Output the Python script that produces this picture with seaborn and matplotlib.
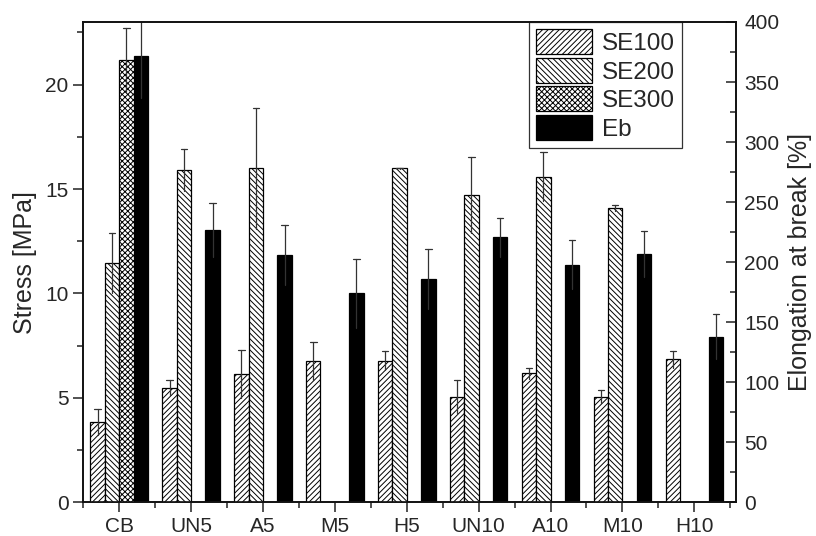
import numpy as np
import pandas as pd
import matplotlib
matplotlib.use('Agg')
import matplotlib.pyplot as plt
from matplotlib.patches import Patch
from matplotlib.ticker import MultipleLocator
import seaborn as sns

nan = np.nan

# Data
categories = ['CB', 'UN5', 'A5', 'M5', 'H5', 'UN10', 'A10', 'M10', 'H10']
se100 = [3.83, 5.48, 6.13, 6.77, 6.77, 5.05, 6.17, 5.05, 6.84]
se100_err = [0.63, 0.35, 1.15, 0.90, 0.45, 0.78, 0.25, 0.32, 0.40]
se200 = [11.45, 15.9, 16.0, nan, 16.0, 14.71, 15.59, 14.1, nan]
se200_err = [1.45, 1.0, 2.9, nan, 0.03, 1.84, 1.16, 0.13, nan]
se300 = [21.2, nan, nan, nan, nan, nan, nan, nan, nan]
se300_err = [1.53, nan, nan, nan, nan, nan, nan, nan, nan]
eb = [371.7, 226.7, 205.8, 174.0, 185.6, 220.6, 198.0, 206.7, 138.0]
eb_err = [35, 22.5, 25, 29, 25, 16, 20, 19, 19]

series = ['SE100', 'SE200', 'SE300', 'Eb']
hatches = {'SE100': '//////', 'SE200': '\\\\\\\\\\\\', 'SE300': 'xxxxxx', 'Eb': ''}
colors = {'SE100': 'white', 'SE200': 'white', 'SE300': 'white', 'Eb': 'black'}

stress = pd.DataFrame({
    'sample': categories * 3,
    'series': ['SE100'] * 9 + ['SE200'] * 9 + ['SE300'] * 9,
    'value': se100 + se200 + se300,
    'err': se100_err + se200_err + se300_err,
}).dropna()
elong = pd.DataFrame({'sample': categories, 'series': 'Eb', 'value': eb, 'err': eb_err})

sns.set_style('ticks')
plt.rcParams['font.family'] = ['Liberation Sans', 'DejaVu Sans']
plt.rcParams['hatch.linewidth'] = 0.7

fig, ax = plt.subplots(figsize=(8.16, 5.36), dpi=100)
fig.subplots_adjust(left=0.102, right=0.902, top=0.959, bottom=0.063)
ax2 = ax.twinx()

sns.barplot(data=stress, x='sample', y='value', hue='series', order=categories,
            hue_order=series, palette=colors, edgecolor='black', linewidth=0.9,
            errorbar=None, legend=False, dodge=True, ax=ax)
sns.barplot(data=elong, x='sample', y='value', hue='series', order=categories,
            hue_order=series, palette=colors, edgecolor='black', linewidth=0.9,
            errorbar=None, legend=False, dodge=True, ax=ax2)


def add_errors(axis, df):
    for s in df['series'].unique():
        sub = df[df['series'] == s].set_index('sample')
        for bar in axis.patches:
            if bar.get_height() == 0 or np.isnan(bar.get_height()):
                continue
            cx = bar.get_x() + bar.get_width() / 2
            idx = int(round(cx))
            name = categories[idx]
            if name in sub.index and np.isclose(sub.loc[name, 'value'], bar.get_height()):
                bar.set_hatch(hatches[s])
                e = sub.loc[name, 'err']
                top = bar.get_height()
                axis.plot([cx, cx], [top - e, top + e], color='#333333', lw=0.9, zorder=1)
                axis.plot([cx - 0.045, cx + 0.045], [top + e, top + e], color='#333333', lw=0.9, zorder=3)


add_errors(ax, stress)
add_errors(ax2, elong)

ax.set_xlim(-0.5, 8.58)
ax.set_ylim(0, 23)
ax2.set_ylim(0, 400)
ax.yaxis.set_major_locator(MultipleLocator(5))
ax.yaxis.set_minor_locator(MultipleLocator(2.5))
ax2.yaxis.set_major_locator(MultipleLocator(50))
ax2.yaxis.set_minor_locator(MultipleLocator(25))
ax.set_xticks(range(len(categories)))
ax.set_xticks(np.arange(-0.5, 8.6, 1.0), minor=True)
ax.set_xticklabels(categories)

for a in (ax, ax2):
    a.tick_params(which='major', length=7, width=1.1, labelsize=15, color='#222222')
    a.tick_params(which='minor', length=4, width=1.1, color='#222222')
    for sp in a.spines.values():
        sp.set_linewidth(1.2)
        sp.set_color('#111111')
ax2.tick_params(axis='y', which='both', direction='in', pad=6)
ax2.tick_params(axis='y', which='major', length=7)

ax.set_xlabel('')
ax.set_ylabel('Stress [MPa]', fontsize=18, labelpad=6)
ax2.set_ylabel('Elongation at break [%]', fontsize=18, labelpad=6)

handles = [Patch(facecolor=colors[s], edgecolor='black', hatch=hatches[s], linewidth=0.9)
           for s in series]
leg = ax.legend(handles, series, loc='upper right', bbox_to_anchor=(0.917, 1.0),
                fontsize=17.5, frameon=True, fancybox=False, edgecolor='black',
                handlelength=2.3, handleheight=1.2, labelspacing=0.12,
                borderpad=0.3, handletextpad=0.4, borderaxespad=0)
leg.get_frame().set_linewidth(0.9)
leg.set_zorder(10)
ax.set_zorder(ax2.get_zorder() + 1)
ax.patch.set_visible(False)

fig.savefig('out.png', dpi=100)
